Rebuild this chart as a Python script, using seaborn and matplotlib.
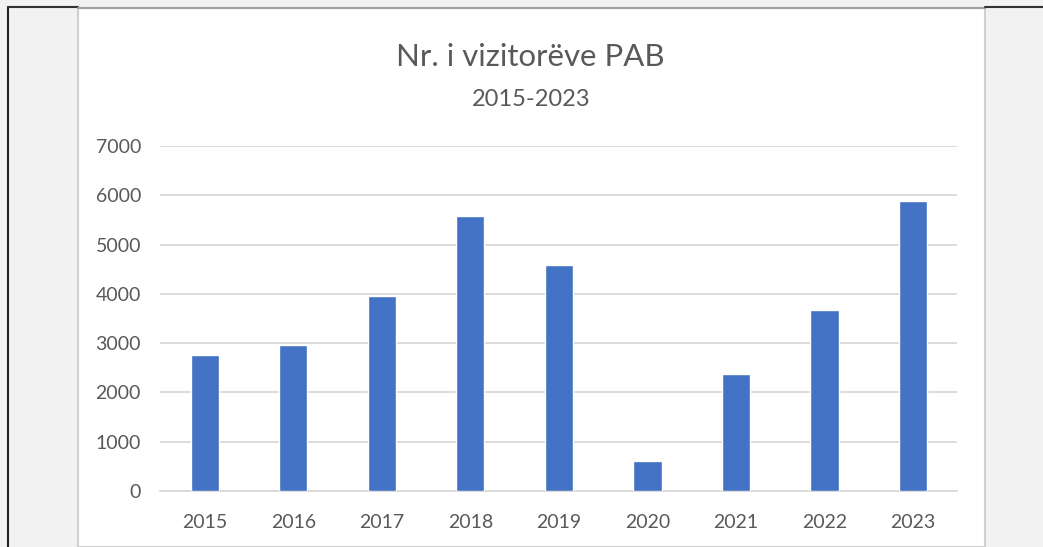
import matplotlib
matplotlib.use("Agg")
import matplotlib.pyplot as plt
import seaborn as sns
import pandas as pd
from matplotlib.patches import Rectangle
from matplotlib.lines import Line2D

years = ["2015", "2016", "2017", "2018", "2019", "2020", "2021", "2022", "2023"]
visitors = [2760, 2960, 3955, 5580, 4590, 610, 2380, 3680, 5890]
y_ticks = [0, 1000, 2000, 3000, 4000, 5000, 6000, 7000]
title = "Nr. i vizitorëve PAB"
subtitle = "2015-2023"

sns.set_theme(style="white")
plt.rcParams['font.family'] = ['Lato', 'DejaVu Sans']

W, H = 1043, 547
fig = plt.figure(figsize=(W / 100, H / 100), dpi=100)
fig.patch.set_facecolor("#f2f2f2")

# white chart area with borders
fig.patches.append(Rectangle((78 / W, 0), (985 - 78) / W, 1 - 8 / H, transform=fig.transFigure,
                             facecolor="white", edgecolor="#d0d0d0", linewidth=1.5, zorder=-10))
fig.lines.append(Line2D([8 / W, 8 / W], [0, 1 - 7 / H], transform=fig.transFigure, color="#222222", lw=1.5, zorder=-5))
fig.lines.append(Line2D([8 / W, 78 / W], [1 - 7 / H, 1 - 7 / H], transform=fig.transFigure, color="#333333", lw=1.5, zorder=-5))
fig.lines.append(Line2D([78 / W, 985 / W], [1 - 7.5 / H, 1 - 7.5 / H], transform=fig.transFigure, color="#a0a0a0", lw=1.5, zorder=-5))
fig.lines.append(Line2D([985 / W, 1], [1 - 7 / H, 1 - 7 / H], transform=fig.transFigure, color="#333333", lw=1.5, zorder=-5))

ax = fig.add_axes([160.4 / W, 1 - 491 / H, (957.3 - 160.4) / W, (491 - 146) / H])
ax.set_zorder(2)
ax.set_facecolor("none")

df = pd.DataFrame({"year": years, "visitors": visitors})
sns.barplot(data=df, x="year", y="visitors", color="#4472C4", saturation=1, width=0.32, ax=ax, zorder=3)

ax.set_ylim(0, 7000)
ax.set_xlim(-0.5, len(years) - 0.5)
ax.set_yticks(y_ticks)
ax.set_yticklabels([str(t) for t in y_ticks])
ax.yaxis.grid(True, color="#d9d9d9", linewidth=1.3, zorder=0)
ax.set_axisbelow(True)
for s in ["top", "right", "left"]:
    ax.spines[s].set_visible(False)
ax.spines["bottom"].set_color("#d9d9d9")
ax.spines["bottom"].set_linewidth(1.3)
ax.set_xlabel("")
ax.set_ylabel("")
ax.tick_params(axis="both", length=0, labelsize=14, colors="#595959")
ax.tick_params(axis="y", pad=14)
ax.tick_params(axis="x", pad=16.5)

fig.text(530 / W, 1 - 57 / H, title, ha="center", va="center", fontsize=22.4, color="#595959")
fig.text(531 / W, 1 - 100 / H, subtitle, ha="center", va="center", fontsize=17, color="#595959")

fig.savefig("out.png", dpi=100, facecolor=fig.get_facecolor())
